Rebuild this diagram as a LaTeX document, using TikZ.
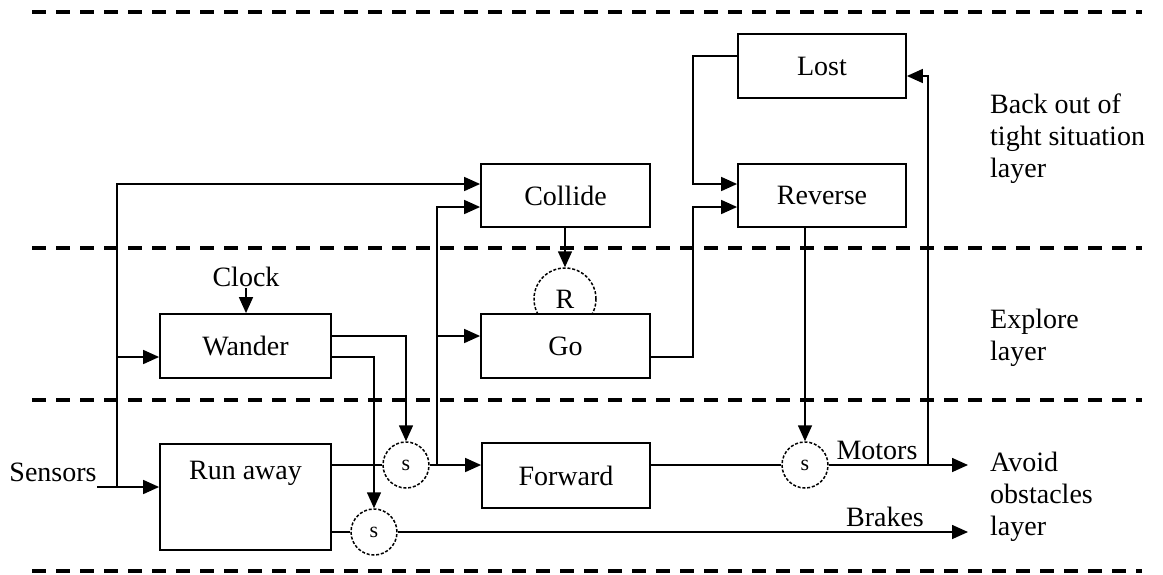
\documentclass[tikz,border=0pt]{standalone}
\usepackage{fontspec}
\setmainfont{Liberation Serif}
\usetikzlibrary{arrows.meta,calc}
\begin{document}
\begin{tikzpicture}[x=1pt,y=-1pt,
  font=\fontsize{28}{32}\selectfont,
  box/.style={draw,line width=1.8pt,fill=white,inner sep=0pt},
  sw/.style={draw,circle,line width=1.5pt,dash pattern=on 3pt off 1.8pt,fill=white,inner sep=0pt,minimum size=46pt,font=\fontsize{22}{24}\selectfont},
  lbl/.style={inner sep=1pt},
  conn/.style={line width=1.6pt},
  arr/.style={conn,-{Triangle[length=16pt,width=14pt]}},
  layerline/.style={line width=4pt,dash pattern=on 14pt off 10pt},
  layerlbl/.style={anchor=north west,align=left,inner sep=0pt}
]
\useasboundingbox (0,0) rectangle (1163,574);
\fill[white] (0,0) rectangle (1163,574);

% layer separators
\draw[layerline] (32,12) -- (1142,12);
\draw[layerline] (32,248) -- (1142,248);
\draw[layerline] (32,400) -- (1142,400);
\draw[layerline] (32,571) -- (1142,571);

% boxes
\node[box,minimum width=169pt,minimum height=63pt] (collide) at (565.5,195.5) {Collide};
\node[sw,minimum size=62pt,font=\fontsize{28}{32}\selectfont] (R) at (565,299) {R};
\node[box,minimum width=169pt,minimum height=64pt] (go) at (565.5,346) {Go};
\node[box,minimum width=168pt,minimum height=64pt] (lost) at (822,66) {Lost};
\node[box,minimum width=168pt,minimum height=63pt] (reverse) at (822,195.5) {Reverse};
\node[box,minimum width=171pt,minimum height=64pt] (wander) at (245.5,346) {Wander};
\node[box,minimum width=171pt,minimum height=106pt] (runaway) at (245.5,497) {};
\node[lbl] (runawaytext) at (245.5,473) {Run away};
\node[box,minimum width=168pt,minimum height=65pt] (forward) at (566,475.5) {Forward};

% suppressors
\node[sw] (s1) at (406,465) {s};
\node[sw] (s2) at (374,532) {s};
\node[sw] (s3) at (805,465) {s};

% labels
\node[lbl] (sensors) at (53,472) {Sensors};
\node[lbl] (clock) at (246,277) {Clock};
\node[lbl] (motors) at (877,450) {Motors};
\node[lbl] (brakes) at (885,517) {Brakes};
\node[layerlbl] (backlayer) at (990,94) {Back out of\\tight situation\\layer};
\node[layerlbl] (explorelayer) at (990,309) {Explore\\layer};
\node[layerlbl] (avoidlayer) at (990,452) {Avoid\\obstacles\\layer};

% coordinates
\coordinate (sen) at (97,487);
\coordinate (j0) at (117,487);
\coordinate (j1) at (117,184);
\coordinate (j2) at (117,357);
\coordinate (w1) at (406,336);
\coordinate (w2) at (374,357);
\coordinate (j3) at (437,465);
\coordinate (j4) at (437,207);
\coordinate (j5) at (437,336);
\coordinate (g1) at (693,357);
\coordinate (g2) at (693,207);
\coordinate (l1) at (693,56);
\coordinate (l2) at (693,184);
\coordinate (m1) at (928,465);
\coordinate (m2) at (928,76);
\coordinate (mend) at (968,465);
\coordinate (bend) at (968,532);

% connectors
\draw[arr] (sen) -- (sen -| runaway.west);
\draw[arr] (j0) -- (j1) -- (j1 -| collide.west);
\draw[arr] (j2) -- (j2 -| wander.west);
\draw[arr] (clock.south) -- (clock.south |- wander.north);
\draw[arr] (w1 -| wander.east) -- (w1) -- (s1.north);
\draw[arr] (w2 -| wander.east) -- (w2) -- (s2.north);
\draw[conn] (s1.west -| runaway.east) -- (s1.west);
\draw[conn] (s2.west -| runaway.east) -- (s2.west);
\draw[arr] (s1.east) -- (s1.east -| forward.west);
\draw[arr] (j3) -- (j4) -- (j4 -| collide.west);
\draw[arr] (j5) -- (j5 -| go.west);
\draw[arr] (R.north |- collide.south) -- (R.north);
\draw[arr] (g1 -| go.east) -- (g1) -- (g2) -- (g2 -| reverse.west);
\draw[arr] (l1 -| lost.west) -- (l1) -- (l2) -- (l2 -| reverse.west);
\draw[arr] (s3.north |- reverse.south) -- (s3.north);
\draw[conn] (s3.west -| forward.east) -- (s3.west);
\draw[arr] (s3.east) -- (mend);
\draw[arr] (m1) -- (m2) -- (m2 -| lost.east);
\draw[arr] (s2.east) -- (bend);
\end{tikzpicture}
\end{document}
